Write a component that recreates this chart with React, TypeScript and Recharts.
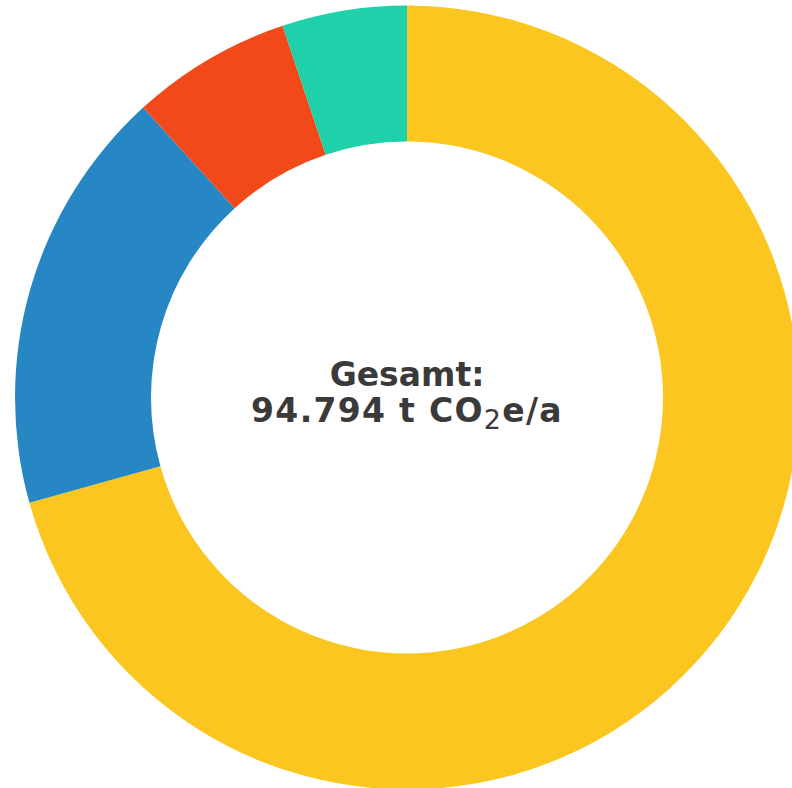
import React from "react";
import { PieChart, Pie, Cell, Label } from "recharts";

// Emissionen nach Bereich (t CO2e/a), im Uhrzeigersinn ab 12 Uhr
const categories = ["Wärme", "Strom", "Mobilität", "Sonstiges"];
const values = [66990, 16665, 6266, 4873];
const colors = ["#FCC620", "#2787C4", "#F2491B", "#1FD1AA"];

const totalLine1 = "Gesamt:";
const totalValue = "94.794";

const data = categories.map((name, i) => ({ name, value: values[i] }));

const CX = 407;
const CY = 397.5;

function CenterText() {
  return (
    <g fill="#3A3A3A" style={{ fontFamily: "'DejaVu Sans', sans-serif", fontWeight: 700, fontSize: 33 }}>
      <text x={CX} y={386} textAnchor="middle">{totalLine1}</text>
      <text x={CX} y={422} textAnchor="middle" style={{ letterSpacing: 1.3 }}>
        <tspan>{totalValue} t CO</tspan>
        <tspan dy={7} style={{ fontSize: 27, fontWeight: 400 }}>2</tspan>
        <tspan dy={-7}>e/a</tspan>
      </text>
    </g>
  );
}

export default function App() {
  return (
    <div style={{ position: "fixed", top: 0, left: 0, width: 792, height: 788, background: "#fff" }}>
      <PieChart width={792} height={788} margin={{ top: 0, right: 0, bottom: 0, left: 0 }}>
        <Pie
          data={data}
          dataKey="value"
          nameKey="name"
          cx={CX}
          cy={CY}
          innerRadius={256}
          outerRadius={392}
          startAngle={90}
          endAngle={-270}
          stroke="none"
          isAnimationActive={false}
        >
          {data.map((entry, index) => (
            <Cell key={`cell-${index}`} fill={colors[index]} />
          ))}
          <Label position="center" content={<CenterText />} />
        </Pie>
      </PieChart>
    </div>
  );
}
